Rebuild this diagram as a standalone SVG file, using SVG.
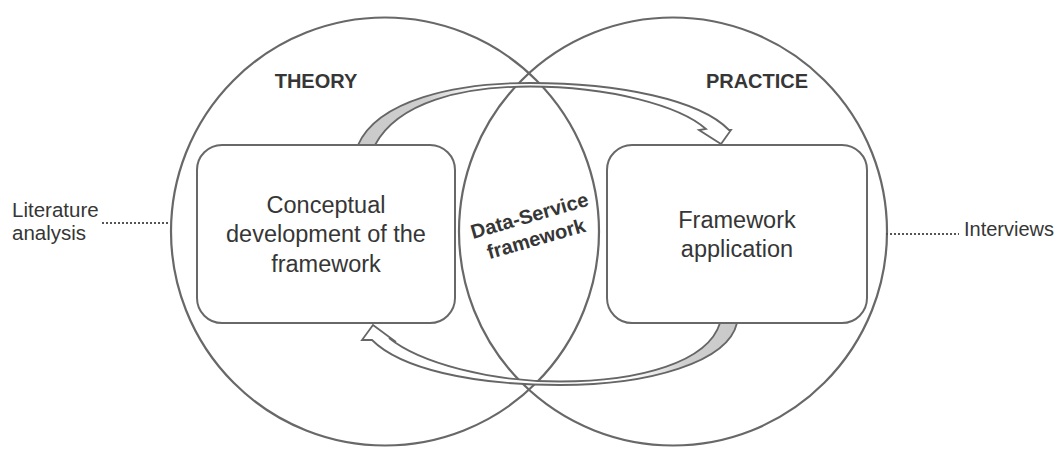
<svg xmlns="http://www.w3.org/2000/svg" width="1057" height="450" viewBox="0 0 1057 450">
<style>
.circ{fill:none;stroke:#686868;stroke-width:2.2}
.box{fill:#fff;stroke:#686868;stroke-width:2}
.arr{stroke:#666;stroke-width:1.8;stroke-linejoin:miter}
.t{font-family:"Liberation Sans",Arial,sans-serif;fill:#363636}
.b{font-weight:bold}
.dot{fill:none;stroke:#555;stroke-width:2;stroke-dasharray:2 2}
</style>
<defs>
<linearGradient id="gTop" gradientUnits="userSpaceOnUse" x1="350" y1="0" x2="480" y2="0">
<stop offset="0" stop-color="#c9c9c9"/><stop offset="0.6" stop-color="#cfcfcf"/><stop offset="1" stop-color="#fff"/>
</linearGradient>
<linearGradient id="gBot" gradientUnits="userSpaceOnUse" x1="740" y1="0" x2="630" y2="0">
<stop offset="0" stop-color="#c9c9c9"/><stop offset="0.5" stop-color="#cfcfcf"/><stop offset="1" stop-color="#fff"/>
</linearGradient>
</defs>
<rect width="1057" height="450" fill="#fff"/>
<g id="theory-circle"><circle class="circ" cx="385" cy="231.5" r="214"/></g>
<g id="practice-circle"><circle class="circ" cx="673" cy="231.5" r="214"/></g>
<g id="connectors">
<path class="arr" fill="url(#gTop)" d="M358 145 C378 100 455 83 530 83 C620 83 700 100 729 130 L731 130 L721 144 L699 130 L706 129 C680 106 610 86.5 530 86.5 C462 86.5 398 102 375 145 Z"/>
<path class="arr" fill="url(#gBot)" d="M737 323 C728 362 650 385 560 385 C470 385 400 368 372 340 L362 340 L373 325 L396 342 L389 338 C420 363 490 381.5 560 381.5 C640 381.5 708 362 720 323 Z"/>
<line class="dot" x1="102" y1="223" x2="168" y2="223"/>
<line class="dot" x1="886" y1="234" x2="959" y2="234"/>
</g>
<g id="theory-label"><text class="t b" x="316" y="88" font-size="20" text-anchor="middle">THEORY</text></g>
<g id="practice-label"><text class="t b" x="757" y="88" font-size="20" text-anchor="middle">PRACTICE</text></g>
<g id="conceptual-node">
<rect class="box" x="197" y="145" width="258" height="178" rx="25"/>
<text class="t" font-size="23.5" text-anchor="middle"><tspan x="326" y="213">Conceptual</tspan><tspan x="326" y="242">development of the</tspan><tspan x="326" y="272">framework</tspan></text>
</g>
<g id="application-node">
<rect class="box" x="607" y="145" width="260" height="178" rx="25"/>
<text class="t" font-size="23.5" text-anchor="middle"><tspan x="737" y="228">Framework</tspan><tspan x="737" y="257">application</tspan></text>
</g>
<g id="data-service">
<text class="t b" font-size="20" text-anchor="middle" transform="translate(533,228) rotate(-16)"><tspan x="0" y="-6">Data-Service</tspan><tspan x="0" y="18">framework</tspan></text>
</g>
<g id="literature"><text class="t" font-size="20.5"><tspan x="12" y="217">Literature</tspan><tspan x="12" y="240">analysis</tspan></text></g>
<g id="interviews"><text class="t" font-size="20" x="964" y="236">Interviews</text></g>
</svg>
